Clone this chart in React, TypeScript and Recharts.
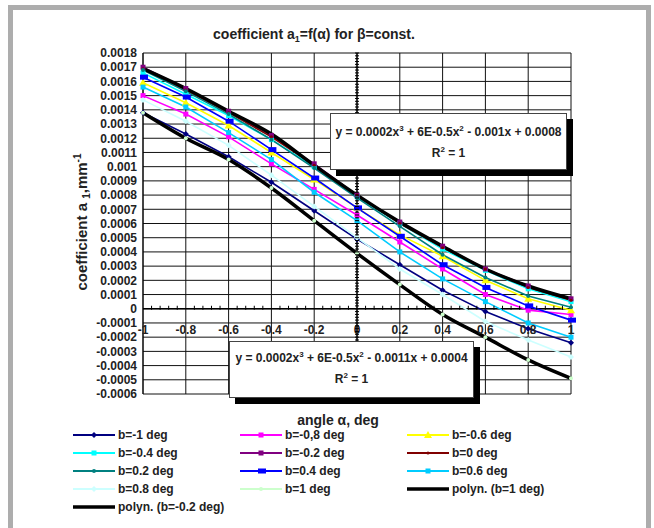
import React from "react";
import { LineChart, Line, XAxis, YAxis, CartesianGrid, ReferenceLine, Legend } from "recharts";

const FONT = '"Liberation Sans", Arial, sans-serif';

// angle alpha, deg
const ALPHA = [-1, -0.8, -0.6, -0.4, -0.2, 0, 0.2, 0.4, 0.6, 0.8, 1];

// coefficient a1 for each beta
const B_M1 = [0.00138, 0.00123, 0.00107, 0.00089, 0.00069, 0.00049, 0.00031, 0.00013, -0.00002, -0.00014, -0.00024];
const B_M08 = [0.0015, 0.00137, 0.00121, 0.00102, 0.00084, 0.00066, 0.00047, 0.00028, 0.0001, -0.00001, -0.00004];
const B_M06 = [0.00159, 0.00145, 0.00129, 0.0011, 0.00091, 0.00071, 0.00052, 0.00037, 0.0002, 0.00007, -0.00001];
const B_M04 = [0.00166, 0.00151, 0.00136, 0.00119, 0.001, 0.00079, 0.0006, 0.00042, 0.00027, 0.00014, 0.00005];
const B_M02 = [0.0017, 0.00155, 0.00139, 0.00122, 0.00102, 0.0008, 0.00061, 0.00044, 0.00028, 0.00016, 0.00007];
const B_0 = [0.00169, 0.00154, 0.00138, 0.00121, 0.00101, 0.0008, 0.0006, 0.00043, 0.00028, 0.00015, 0.00006];
const B_02 = [0.00168, 0.00153, 0.00137, 0.00119, 0.00099, 0.00078, 0.00058, 0.00038, 0.00022, 0.00009, 0.00001];
const B_04 = [0.00163, 0.00149, 0.00132, 0.00112, 0.00092, 0.00071, 0.00051, 0.00031, 0.00015, 0.00002, -0.00008];
const B_06 = [0.00156, 0.00142, 0.00124, 0.00105, 0.00082, 0.00062, 0.0004, 0.00021, 0.00005, -0.0001, -0.0002];
const B_08 = [0.00147, 0.00132, 0.00115, 0.00094, 0.00072, 0.0005, 0.00028, 0.0001, -0.00009, -0.00022, -0.00034];
const B_1 = [0.00138, 0.0012, 0.00105, 0.00085, 0.00062, 0.00039, 0.00017, -0.00004, -0.0002, -0.00036, -0.00049];

// trendlines as drawn
const POLY_B1 = [0.00138, 0.0012, 0.00105, 0.00085, 0.00062, 0.00039, 0.00017, -0.00004, -0.0002, -0.00036, -0.00049];
const POLY_BM02 = [0.00169, 0.00155, 0.00139, 0.00123, 0.00101, 0.0008, 0.00061, 0.00044, 0.00028, 0.00016, 0.00007];

const X_TICKS = [-1, -0.8, -0.6, -0.4, -0.2, 0, 0.2, 0.4, 0.6, 0.8, 1];
const Y_TICKS = [
  0.0018, 0.0017, 0.0016, 0.0015, 0.0014, 0.0013, 0.0012, 0.0011, 0.001, 0.0009, 0.0008, 0.0007, 0.0006,
  0.0005, 0.0004, 0.0003, 0.0002, 0.0001, 0, -0.0001, -0.0002, -0.0003, -0.0004, -0.0005, -0.0006,
];

const Y_MIN = -0.0006;
const Y_MAX = 0.0018;

const SERIES = [
  { key: "bm1", name: "b=-1 deg", color: "#000080", shape: "diamond", values: B_M1 },
  { key: "bm08", name: "b=-0,8 deg", color: "#ff00ff", shape: "square", values: B_M08 },
  { key: "bm06", name: "b=-0.6 deg", color: "#ffff00", shape: "triangle", values: B_M06 },
  { key: "bm04", name: "b=-0.4 deg", color: "#00ffff", shape: "square", values: B_M04 },
  { key: "bm02", name: "b=-0.2 deg", color: "#800080", shape: "square", values: B_M02 },
  { key: "b0", name: "b=0 deg", color: "#800000", shape: "plus", values: B_0 },
  { key: "b02", name: "b=0.2 deg", color: "#008080", shape: "dot", values: B_02 },
  { key: "b04", name: "b=0.4 deg", color: "#0000ff", shape: "rect", values: B_04 },
  { key: "b06", name: "b=0.6 deg", color: "#00ccff", shape: "square", values: B_06 },
  { key: "b08", name: "b=0.8 deg", color: "#ccffff", shape: "diamond", values: B_08 },
  { key: "b1", name: "b=1 deg", color: "#ccffcc", shape: "dot", values: B_1 },
  { key: "p1", name: "polyn. (b=1 deg)", color: "#000000", shape: null, values: POLY_B1, trend: true },
  { key: "pm02", name: "polyn. (b=-0.2 deg)", color: "#000000", shape: null, values: POLY_BM02, trend: true },
];

const data = ALPHA.map((a, i) => {
  const row: any = { a };
  SERIES.forEach((s) => (row[s.key] = s.values[i]));
  return row;
});

// plot box (page pixels)
const PLOT_LEFT = 143;
const PLOT_TOP = 53;
const PLOT_W = 428;
const PLOT_H = 341;
const ZERO_Y = PLOT_TOP + (PLOT_H * Y_MAX) / (Y_MAX - Y_MIN);
const ZERO_X = PLOT_LEFT + PLOT_W / 2;
const X_MINOR_STEP = PLOT_W / 50; // 0.04 deg
const Y_MINOR_STEP = PLOT_H / 120; // 0.00002

const Mark = ({ cx, cy, kind, color }: any) => {
  if (cx == null || cy == null) return null;
  switch (kind) {
    case "diamond":
      return <polygon points={`${cx},${cy - 3} ${cx + 3},${cy} ${cx},${cy + 3} ${cx - 3},${cy}`} fill={color} />;
    case "square":
      return <rect x={cx - 2.5} y={cy - 2.5} width={5} height={5} fill={color} />;
    case "triangle":
      return <polygon points={`${cx},${cy - 4} ${cx + 4},${cy + 3} ${cx - 4},${cy + 3}`} fill={color} />;
    case "rect":
      return <rect x={cx - 3} y={cy - 2.5} width={8} height={5} fill={color} />;
    case "plus":
      return <circle cx={cx} cy={cy} r={1.5} fill={color} />;
    default:
      return <circle cx={cx} cy={cy} r={2} fill={color} />;
  }
};

const XTick = ({ x, payload }: any) => (
  <g>
    {payload.value < 1 &&
      [1, 2, 3, 4].map((k) => (
        <line key={k} x1={x + k * X_MINOR_STEP} x2={x + k * X_MINOR_STEP} y1={ZERO_Y - 3} y2={ZERO_Y + 1} stroke="#000" />
      ))}
    <text x={x} y={ZERO_Y + 25} textAnchor="middle" fontSize={12} fontWeight={700} fill="#222" fontFamily={FONT}>
      {String(payload.value)}
    </text>
  </g>
);

const YTick = ({ x, y, payload }: any) => (
  <g>
    {payload.value > Y_MIN &&
      [0, 1, 2, 3, 4].map((k) => (
        <line key={k} x1={ZERO_X - 2} x2={ZERO_X + 2} y1={y + k * Y_MINOR_STEP} y2={y + k * Y_MINOR_STEP} stroke="#000" />
      ))}
    <text x={x} y={y} dy="0.355em" textAnchor="end" fontSize={12} fontWeight={700} fill="#222" fontFamily={FONT}>
      {String(Math.round(payload.value * 1e4) / 1e4)}
    </text>
  </g>
);

const LegendBox = ({ payload }: any) => {
  const items = [...(payload || [])].sort(
    (p: any, q: any) => SERIES.findIndex((s) => s.key === p.dataKey) - SERIES.findIndex((s) => s.key === q.dataKey)
  );
  return (
    <div style={{ display: "grid", gridTemplateColumns: "167px 167px 200px", fontFamily: FONT }}>
      {items.map((p: any) => {
        const s = SERIES.find((t) => t.key === p.dataKey)!;
        return (
          <div key={s.key} style={{ display: "flex", alignItems: "center", height: 18 }}>
            <svg width={42} height={12}>
              <line x1={0} x2={42} y1={6} y2={6} stroke={s.color} strokeWidth={s.trend ? 3.5 : 2} />
              {s.shape && <Mark cx={21} cy={6} kind={s.shape} color={s.color} />}
            </svg>
            <span style={{ marginLeft: 3, fontSize: 12, fontWeight: 700, color: "#222", whiteSpace: "nowrap" }}>{s.name}</span>
          </div>
        );
      })}
    </div>
  );
};

const boxStyle: React.CSSProperties = {
  position: "absolute",
  background: "#fff",
  border: "1px solid #444",
  boxShadow: "6px 6px 0 #000",
  fontFamily: FONT,
  fontWeight: 700,
  fontSize: 12,
  color: "#222",
  textAlign: "center",
  boxSizing: "border-box",
};

export default function App() {
  return (
    <div style={{ position: "absolute", left: 0, top: 0, width: 654, height: 528, background: "#fff", overflow: "hidden" }}>
      <div style={{ position: "absolute", left: 8, top: 5, width: 643, height: 560, border: "5px solid #adadad", boxSizing: "border-box" }} />
      <div style={{ position: "absolute", left: 0, top: 0 }}>
        <LineChart width={654} height={528} data={data} margin={{ top: PLOT_TOP, right: 654 - PLOT_LEFT - PLOT_W, bottom: 104, left: 83 }}>
          <CartesianGrid stroke="#111" strokeWidth={1} />
          <XAxis dataKey="a" type="number" domain={[-1, 1]} ticks={X_TICKS} interval={0} height={30} axisLine={false} tickLine={false} tick={<XTick />} />
          <YAxis
            type="number"
            domain={[Y_MIN, Y_MAX]}
            ticks={Y_TICKS}
            interval={0}
            width={60}
            axisLine={{ stroke: "#000" }}
            tickLine={false}
            tickMargin={0}
            tick={<YTick />}
          />
          <ReferenceLine y={0} stroke="#000" strokeWidth={1.5} />
          <ReferenceLine x={0} stroke="#000" strokeWidth={1.2} />
          {SERIES.map((s) => (
            <Line
              key={s.key}
              dataKey={s.key}
              name={s.name}
              type={s.trend ? "monotone" : "linear"}
              stroke={s.color}
              strokeWidth={s.trend ? 3.5 : 1.6}
              dot={s.shape ? <Mark kind={s.shape} color={s.color} /> : false}
              activeDot={false}
              isAnimationActive={false}
            />
          ))}
          <Legend
            layout="vertical"
            align="center"
            verticalAlign="middle"
            content={<LegendBox />}
            wrapperStyle={{ position: "absolute", left: 73, top: 426, width: 540, height: 92 }}
          />
        </LineChart>
      </div>
      <svg width={654} height={528} style={{ position: "absolute", left: 0, top: 0, pointerEvents: "none" }} fontFamily={FONT} fontWeight={700} fill="#222">
        <text x={314} y={39} textAnchor="middle" fontSize={14}>
          coefficient a<tspan fontSize={9} dy={3}>1</tspan>
          <tspan dy={-3}>=f(α) for β=const.</tspan>
        </text>
        <text x={338} y={425} textAnchor="middle" fontSize={14}>angle α, deg</text>
        <text x={87} y={222} textAnchor="middle" fontSize={15} transform="rotate(-90 87 222)">
          coefficient  a <tspan fontSize={10} dy={3}>1</tspan>
          <tspan dy={-3}>,mm</tspan>
          <tspan fontSize={10} dy={-6}>-1</tspan>
        </text>
      </svg>
      <div style={{ ...boxStyle, left: 330, top: 113, width: 237, height: 57 }}>
        <div style={{ marginTop: 10 }}>
          y = 0.0002x<sup style={{ fontSize: 8 }}>3</sup> + 6E-0.5x<sup style={{ fontSize: 8 }}>2</sup> - 0.001x + 0.0008
        </div>
        <div style={{ marginTop: 6 }}>
          R<sup style={{ fontSize: 8 }}>2</sup> = 1
        </div>
      </div>
      <div style={{ ...boxStyle, left: 229, top: 341, width: 245, height: 57 }}>
        <div style={{ marginTop: 8 }}>
          y = 0.0002x<sup style={{ fontSize: 8 }}>3</sup> + 6E-0.5x<sup style={{ fontSize: 8 }}>2</sup> - 0.0011x + 0.0004
        </div>
        <div style={{ marginTop: 6 }}>
          R<sup style={{ fontSize: 8 }}>2</sup> = 1
        </div>
      </div>
    </div>
  );
}
